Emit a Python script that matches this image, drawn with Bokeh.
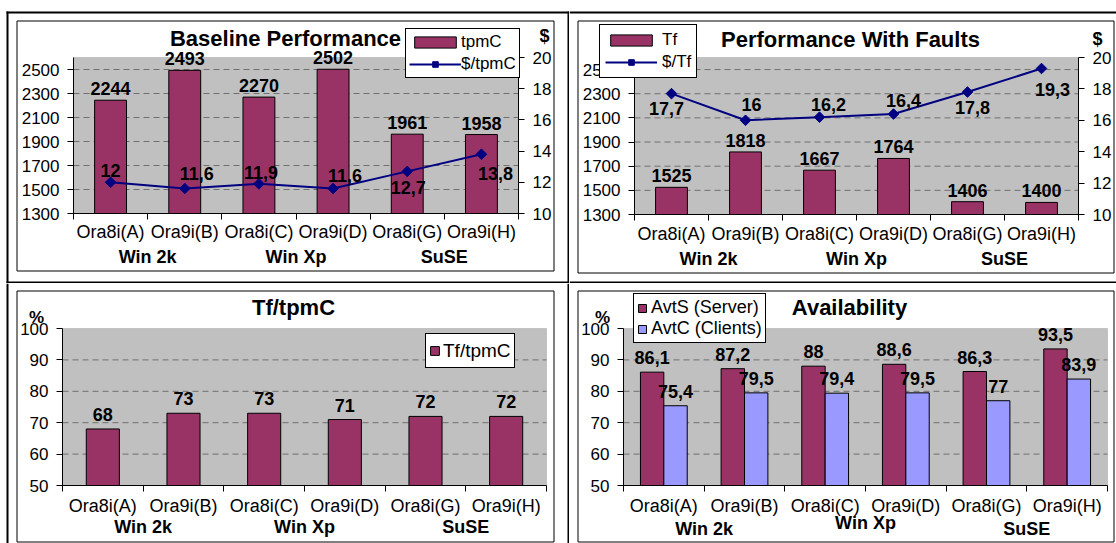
import numpy as np
from bokeh.plotting import figure
from bokeh.models import (ColumnDataSource, Range1d, LinearAxis, FixedTicker, LabelSet,
                          Label, BoxAnnotation, Legend, LegendItem)
from bokeh.core.properties import value
from bokeh.layouts import column, row
from bokeh.embed import file_html
from bokeh.resources import INLINE

# ---------------- data ----------------
categories = ["Ora8i(A)", "Ora9i(B)", "Ora8i(C)", "Ora9i(D)", "Ora8i(G)", "Ora9i(H)"]
platforms = ["Win 2k", "Win Xp", "SuSE"]

tpmc = [2244, 2493, 2270, 2502, 1961, 1958]
cost_tpmc = [12, 11.6, 11.9, 11.6, 12.7, 13.8]
tf = [1525, 1818, 1667, 1764, 1406, 1400]
cost_tf = [17.7, 16, 16.2, 16.4, 17.8, 19.3]
tf_ratio = [68, 73, 73, 71, 72, 72]
avt_server = [86.1, 87.2, 88, 88.6, 86.3, 93.5]
avt_clients = [75.4, 79.5, 79.4, 79.5, 77, 83.9]

perf_range = (1300, 2600)
perf_ticks = [1300, 1500, 1700, 1900, 2100, 2300, 2500]
cost_range = (10, 20)
cost_ticks = [10, 12, 14, 16, 18, 20]
pct_range = (50, 100)
pct_ticks = [50, 60, 70, 80, 90, 100]

# hand placed data-label offsets (pixels) for the cost series
cost_tpmc_dx = [0, 12, 2, 12, 1, 14]
cost_tpmc_dy = [12, 15, 11, 13, -16, -19]
cost_tf_dx = [-5, 6, 9, 10, 5, 11]
cost_tf_dy = [-15, 16, 13, 14, -15, -21]

# ---------------- style ----------------
FONT = "Liberation Sans"
MAROON = "#993366"
LAVENDER = "#9999FF"
NAVY = "#000080"
PLOT_BG = "#C0C0C0"

n = len(categories)
XMAX = 2 * n
xs = [2 * i + 1 for i in range(n)]
x_bounds = [2 * i for i in range(n + 1)]
grp_x = [4 * g + 2 for g in range(len(platforms))]


def fmt(v):
    return ("%g" % v).replace(".", ",")


def canvas_box(p, l, r, t, b, fill=None, line=None):
    p.add_layout(BoxAnnotation(
        left=l, right=r, top=t, bottom=b,
        left_units="canvas", right_units="canvas", top_units="canvas", bottom_units="canvas",
        fill_color=fill if fill else "white", fill_alpha=1 if fill else 0,
        line_color=line if line else "black", line_alpha=1 if line else 0,
        line_width=1, level="overlay"))


def canvas_text(p, x, y, text, size, bold=True):
    p.add_layout(Label(
        x=x, y=y, x_units="canvas", y_units="canvas", text=text,
        text_font=FONT, text_font_size=size,
        text_font_style="bold" if bold else "normal",
        text_align="center", text_baseline="middle", text_color="black"))


def style_value_axis(ax, standoff):
    ax.axis_line_color = "black"
    ax.major_tick_line_color = "black"
    ax.major_tick_out = 6
    ax.major_tick_in = 0
    ax.minor_tick_line_color = None
    ax.major_label_text_font = FONT
    ax.major_label_text_font_size = "17px"
    ax.major_label_text_color = "black"
    ax.major_label_standoff = standoff


def span_range(lo, hi, p0, p1, total):
    """data range for the whole canvas so that value lo sits at pixel p0 and hi at p1"""
    k = (hi - lo) / (p1 - p0)
    return lo - p0 * k, hi + (total - p1) * k


def make_fig(width, height, area, yrange, yticks, cat_standoff, grp_standoffs):
    # area: plot-area rectangle (left, top, right, bottom) in canvas pixels
    l, t, r, b = area
    x0, x1 = span_range(0, XMAX, l, r, width)
    y0, y1 = span_range(yrange[0], yrange[1], height - b, height - t, height)
    p = figure(width=width, height=height,
               x_range=Range1d(x0, x1), y_range=Range1d(y0, y1),
               output_backend="svg", toolbar_location=None,
               x_axis_location=None, y_axis_location=None,
               min_border_left=0, min_border_right=0, min_border_top=0, min_border_bottom=0)
    p.title.visible = False
    p.background_fill_color = "white"
    p.border_fill_color = "white"
    p.outline_line_color = None
    p.grid.visible = False

    # plot area
    p.add_layout(BoxAnnotation(left=0, right=XMAX, bottom=yrange[0], top=yrange[1],
                               fill_color=PLOT_BG, fill_alpha=1,
                               line_color="#808080", line_width=1, level="image"))
    # dashed gridlines at the value ticks
    gv = [v for v in yticks if yrange[0] < v < yrange[1]]
    p.segment(x0=[0] * len(gv), x1=[XMAX] * len(gv), y0=gv, y1=gv,
              line_color="#707070", line_width=1, line_dash="6 4")

    yax = LinearAxis(ticker=FixedTicker(ticks=yticks), fixed_location=0, bounds=yrange)
    style_value_axis(yax, 8)
    p.add_layout(yax, "left")

    xax = LinearAxis(ticker=FixedTicker(ticks=xs, minor_ticks=x_bounds),
                     fixed_location=yrange[0], bounds=(0, XMAX),
                     major_label_overrides={x: c for x, c in zip(xs, categories)})
    xax.axis_line_color = "black"
    xax.major_tick_line_color = None
    xax.major_tick_out = 0
    xax.major_tick_in = 0
    xax.minor_tick_line_color = "black"
    xax.minor_tick_out = 6
    xax.minor_tick_in = 0
    xax.major_label_text_font = FONT
    xax.major_label_text_font_size = "18px"
    xax.major_label_text_color = "black"
    xax.major_label_standoff = cat_standoff
    p.add_layout(xax, "below")

    # one label axis per platform group (so each can sit at its own depth)
    for gx, g, so in zip(grp_x, platforms, grp_standoffs):
        gax = LinearAxis(
            ticker=FixedTicker(ticks=[gx]), fixed_location=yrange[0], bounds=(0, XMAX),
            major_label_overrides={gx: g},
            axis_line_color=None, major_tick_line_color=None, minor_tick_line_color=None,
            major_tick_out=0, major_tick_in=0, minor_tick_out=0, minor_tick_in=0,
            major_label_standoff=so, major_label_text_font=FONT,
            major_label_text_font_size="18px", major_label_text_font_style="bold",
            major_label_text_color="black")
        p.add_layout(gax, "below")
    return p


def add_right_cost_axis(p, area, height):
    l, t, r, b = area
    c0, c1 = span_range(cost_range[0], cost_range[1], height - b, height - t, height)
    p.extra_y_ranges = {"cost": Range1d(c0, c1)}
    rax = LinearAxis(y_range_name="cost", ticker=FixedTicker(ticks=cost_ticks),
                     fixed_location=XMAX, bounds=cost_range)
    style_value_axis(rax, 8)
    p.add_layout(rax, "right")


def bar_labels(p, xpos, vals, lift):
    src = ColumnDataSource(dict(x=xpos, y=vals, t=[fmt(v) for v in vals]))
    p.add_layout(LabelSet(x="x", y="y", text="t", source=src, y_offset=lift,
                          text_font=value(FONT), text_font_size=value("18px"),
                          text_font_style=value("bold"),
                          text_align="center", text_baseline="alphabetic", text_color="black"))


def cost_labels(p, vals, dx, dy):
    src = ColumnDataSource(dict(x=xs, y=vals, t=[fmt(v) for v in vals], dx=dx, dy=dy))
    p.add_layout(LabelSet(x="x", y="y", text="t", source=src, y_range_name="cost",
                          x_offset="dx", y_offset="dy",
                          text_font=value(FONT), text_font_size=value("18px"),
                          text_font_style=value("bold"),
                          text_align="center", text_baseline="middle", text_color="black"))


def add_legend(p, items, height, left, bottom, gw, gh, lh, size, pad, spacing, standoff):
    leg = Legend(items=items, location=(left, height - bottom), orientation="vertical",
                 border_line_color="black", border_line_width=1, border_line_alpha=1,
                 background_fill_color="white", background_fill_alpha=1,
                 label_text_font=FONT, label_text_font_size=size, label_text_color="black",
                 glyph_width=gw, glyph_height=gh, label_height=lh,
                 label_standoff=standoff, padding=pad, spacing=spacing, margin=0)
    p.add_layout(leg)


def cost_line(p, vals):
    ln = p.line(xs, vals, y_range_name="cost", line_color=NAVY, line_width=2)
    mk = p.scatter(xs, vals, y_range_name="cost", marker="square",
                   angle=45, angle_units="deg", size=7.5,
                   fill_color=NAVY, line_color=NAVY)
    return ln, mk


W_L, W_R, H_T, H_B = 569, 547, 283, 260

# ---------------- top-left: Baseline Performance ----------------
a1 = (73, 57, 518, 213)
p1 = make_fig(W_L, H_T, a1, perf_range, perf_ticks, 2, [33, 33, 33])
add_right_cost_axis(p1, a1, H_T)
b1 = p1.vbar(x=xs, top=tpmc, bottom=perf_range[0], width=0.86,
             fill_color=MAROON, line_color="black", line_width=1)
l1, m1 = cost_line(p1, cost_tpmc)
bar_labels(p1, xs, tpmc, 5)
cost_labels(p1, cost_tpmc, cost_tpmc_dx, cost_tpmc_dy)
add_legend(p1, [LegendItem(label=value("tpmC"), renderers=[b1]),
                LegendItem(label=value("$/tpmC"), renderers=[l1, m1])],
           H_T, 405, 78, 52, 14, 20, "17px", 3, 2, 0)
canvas_text(p1, 285, 38, "Baseline Performance", "22px")
canvas_text(p1, 544, 35, "$", "18px")
canvas_box(p1, 16.5, 553.5, 20.5, 270.5, line="black")
canvas_box(p1, 6, 8, 11, H_T, fill="black")
canvas_box(p1, 6, W_L, 11, 13, fill="black")
canvas_box(p1, W_L - 2, W_L, 11, H_T, fill="black")
canvas_box(p1, 6, W_L, H_T - 2, H_T, fill="black")

# ---------------- top-right: Performance With Faults ----------------
a2 = (65, 57, 509, 214)
p2 = make_fig(W_R, H_T, a2, perf_range, perf_ticks, 3, [34, 34, 34])
add_right_cost_axis(p2, a2, H_T)
b2 = p2.vbar(x=xs, top=tf, bottom=perf_range[0], width=0.86,
             fill_color=MAROON, line_color="black", line_width=1)
l2, m2 = cost_line(p2, cost_tf)
bar_labels(p2, xs, tf, 5)
cost_labels(p2, cost_tf, cost_tf_dx, cost_tf_dy)
add_legend(p2, [LegendItem(label=value("Tf"), renderers=[b2]),
                LegendItem(label=value("$/Tf"), renderers=[l2, m2])],
           H_T, 30, 78, 52, 14, 20, "17px", 5, 2, 5)
canvas_text(p2, 281, 39, "Performance With Faults", "22px")
canvas_text(p2, 528, 38, "$", "18px")
canvas_box(p2, 8.5, 544.5, 20.5, 272.5, line="black")
canvas_box(p2, 0, W_R, 11, 13, fill="black")
canvas_box(p2, 0, W_R, H_T - 2, H_T, fill="black")

# ---------------- bottom-left: Tf/tpmC ----------------
a3 = (62, 45, 546, 202)
p3 = make_fig(W_L, H_B, a3, pct_range, pct_ticks, 4, [31, 31, 31])
b3 = p3.vbar(x=xs, top=tf_ratio, bottom=pct_range[0], width=0.82,
             fill_color=MAROON, line_color="black", line_width=1)
bar_labels(p3, xs, tf_ratio, 8)
add_legend(p3, [LegendItem(label=value("Tf/tpmC"), renderers=[b3])],
           H_B, 425, 85, 11, 11, 27, "19px", 3, 0, 3)
canvas_text(p3, 293, 24, "Tf/tpmC", "22px")
canvas_text(p3, 36, 34, "%", "17px")
canvas_box(p3, 16.5, 553.5, 7.5, 258.5, line="black")
canvas_box(p3, 6, 8, 0, H_B, fill="black")
canvas_box(p3, W_L - 2, W_L, 0, H_B, fill="black")

# ---------------- bottom-right: Availability ----------------
a4 = (54, 45, 538, 202)
p4 = make_fig(W_R, H_B, a4, pct_range, pct_ticks, 4, [33, 27, 33])
xs_server = [x - 0.29 for x in xs]
xs_clients = [x + 0.29 for x in xs]
b4s = p4.vbar(x=xs_server, top=avt_server, bottom=pct_range[0], width=0.58,
              fill_color=MAROON, line_color="black", line_width=1)
b4c = p4.vbar(x=xs_clients, top=avt_clients, bottom=pct_range[0], width=0.58,
              fill_color=LAVENDER, line_color="black", line_width=1)
bar_labels(p4, xs_server, avt_server, 8)
bar_labels(p4, xs_clients, avt_clients, 8)
add_legend(p4, [LegendItem(label=value("AvtS (Server)"), renderers=[b4s]),
                LegendItem(label=value("AvtC (Clients)"), renderers=[b4c])],
           H_B, 64, 60, 10, 10, 20, "18px", 3, 0, 4)
canvas_text(p4, 280, 24, "Availability", "22px")
canvas_text(p4, 33, 34, "%", "17px")
canvas_box(p4, 8.5, 544.5, 7.5, 258.5, line="black")

layout = column(row(p1, p2), row(p3, p4))
open("out.html", "w").write(file_html(layout, INLINE))
